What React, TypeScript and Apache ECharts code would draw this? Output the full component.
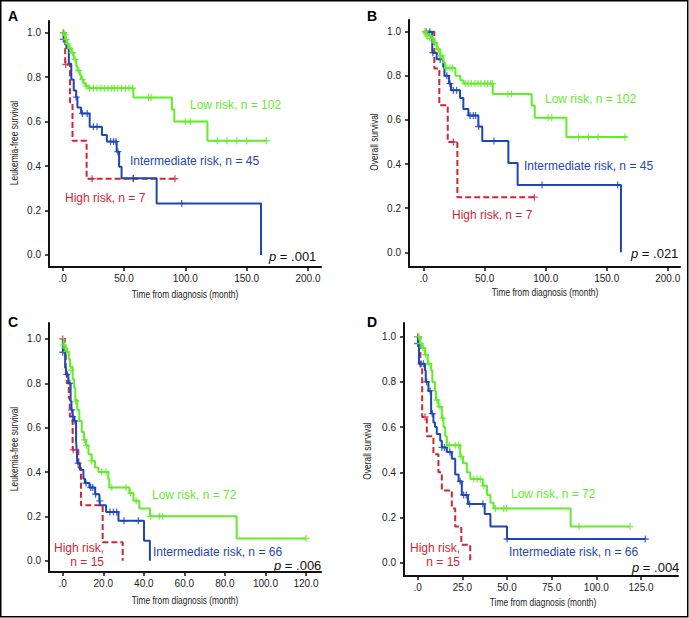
import React, { useEffect, useRef } from "react";
import * as echarts from "echarts";

// ---------- colours ----------
const GREEN = "#63ec2a";
const BLUE = "#1d47b4";
const RED = "#d02535";

// ---------- tick values ----------
const xTicksAB = [0, 50, 100, 150, 200];
const xTicksC = [0, 20, 40, 60, 80, 100, 120];
const xTicksD = [0, 25, 50, 75, 100, 125];
const yTicks = [0, 0.2, 0.4, 0.6, 0.8, 1.0];

// ---------- Panel A : leukemia-free survival ----------
const aLowSteps = [[0, 1], [1, 0.99], [2, 0.97], [3, 0.95], [5, 0.93], [7, 0.91], [9, 0.88], [11, 0.85], [12, 0.83], [14, 0.81], [15, 0.79], [17, 0.77], [19, 0.76], [21, 0.75], [57.6, 0.708], [89, 0.655], [91, 0.6], [118, 0.514], [166, 0.514]];
const aLowCens = [[1, 1], [2, 0.99], [3, 0.97], [4, 0.95], [6, 0.93], [8, 0.91], [10, 0.88], [13, 0.83], [16, 0.79], [19, 0.76], [22, 0.75], [25, 0.75], [28, 0.75], [31, 0.75], [34, 0.75], [37, 0.75], [40, 0.75], [42, 0.75], [45, 0.75], [48, 0.75], [51, 0.75], [54, 0.75], [57, 0.75], [70, 0.708], [72, 0.708], [100, 0.6], [104, 0.6], [126, 0.514], [134, 0.514], [142, 0.514], [150, 0.514], [166, 0.514]];
const aIntSteps = [[0, 1], [1, 0.97], [3, 0.93], [5, 0.86], [7, 0.79], [9, 0.74], [11, 0.71], [12, 0.664], [15, 0.637], [22, 0.577], [32, 0.54], [36, 0.51], [44, 0.465], [46, 0.397], [48, 0.345], [76.6, 0.232], [161.7, 0]];
const aIntCens = [[0.5, 0.97], [11, 0.71], [16, 0.637], [20, 0.637], [25, 0.577], [28, 0.577], [39, 0.51], [41.5, 0.51], [43.5, 0.51], [45, 0.465], [57.6, 0.345], [97, 0.232]];
const aHighSteps = [[0, 1], [2, 0.857], [6, 0.686], [8, 0.514], [19.5, 0.343], [91.5, 0.343]];
const aHighCens = [[0.5, 1], [2.5, 0.857], [24, 0.343], [57.6, 0.343], [91.5, 0.343]];

// ---------- Panel B : overall survival ----------
const bLowSteps = [[0, 1], [2, 0.99], [4, 0.98], [6, 0.97], [8, 0.95], [10.7, 0.92], [13.4, 0.89], [16, 0.86], [17.5, 0.835], [26, 0.8], [30, 0.78], [32.5, 0.765], [56.6, 0.718], [88.5, 0.665], [91, 0.61], [117, 0.523], [166.4, 0.523]];
const bLowCens = [[1, 1], [2, 0.99], [3, 0.98], [5, 0.97], [7, 0.97], [9, 0.95], [12, 0.92], [14, 0.89], [15, 0.89], [19, 0.835], [21.5, 0.835], [23.5, 0.835], [34, 0.765], [36.5, 0.765], [39, 0.765], [42, 0.765], [44.5, 0.765], [47, 0.765], [50, 0.765], [52.5, 0.765], [55, 0.765], [56.5, 0.765], [69, 0.718], [72, 0.718], [102, 0.61], [105, 0.61], [127, 0.523], [135, 0.523], [143, 0.523], [165, 0.523]];
const bIntSteps = [[0, 1], [7, 0.905], [10.7, 0.875], [16, 0.84], [17, 0.8], [20.8, 0.765], [22.4, 0.735], [29.8, 0.7], [32.5, 0.65], [36.6, 0.62], [44.8, 0.57], [48, 0.505], [69.4, 0.405], [77, 0.305], [161.7, 0]];
const bIntCens = [[5, 1], [7.5, 0.905], [13.5, 0.875], [19, 0.8], [21.5, 0.765], [24.3, 0.735], [27, 0.735], [38, 0.62], [40.7, 0.62], [42.5, 0.62], [45, 0.57], [57.6, 0.505], [97, 0.305], [159, 0.305]];
const bHighSteps = [[0, 1], [8.7, 0.833], [12.8, 0.667], [19.7, 0.5], [27.6, 0.25], [90.7, 0.25]];
const bHighCens = [[2, 1], [24.3, 0.5], [90.7, 0.25]];

// ---------- Panel C : leukemia-free survival ----------
const cLowSteps = [[0, 1], [0.5, 0.97], [1.5, 0.955], [2.2, 0.94], [3, 0.91], [3.6, 0.875], [4.9, 0.82], [5.6, 0.78], [6.2, 0.725], [7.2, 0.68], [8.2, 0.63], [9.4, 0.58], [10.5, 0.545], [11.5, 0.52], [12.7, 0.48], [14.3, 0.45], [16, 0.42], [17.6, 0.4], [22.5, 0.37], [23, 0.33], [32.9, 0.305], [34.9, 0.27], [37.8, 0.235], [43, 0.2], [85.8, 0.1], [120, 0.1]];
const cLowCens = [[0.3, 0.973], [1, 0.96], [2, 0.943], [4.1, 0.86], [6.4, 0.72], [10.7, 0.545], [11.8, 0.52], [14, 0.45], [19.2, 0.4], [21.4, 0.4], [24.2, 0.33], [31.2, 0.33], [33.5, 0.305], [36.2, 0.27], [43.4, 0.2], [47.7, 0.2], [49.3, 0.2], [120, 0.1]];
const cIntSteps = [[0, 1], [0.3, 0.94], [1.2, 0.87], [1.6, 0.84], [2.8, 0.8], [3.9, 0.72], [4.3, 0.68], [4.9, 0.65], [5.6, 0.63], [6.6, 0.54], [6.9, 0.5], [7.2, 0.44], [8.5, 0.41], [10.2, 0.37], [11, 0.35], [13.2, 0.33], [16, 0.3], [18.1, 0.27], [18.4, 0.25], [21.4, 0.22], [27.5, 0.18], [40.1, 0.09], [43, 0]];
const cIntCens = [[0, 0.94], [2, 0.84], [3.6, 0.8], [4.4, 0.68], [4.9, 0.65], [6, 0.63], [7.6, 0.44], [11.5, 0.35], [13.8, 0.33], [14.8, 0.33], [16.2, 0.3], [18.3, 0.27], [23.3, 0.22], [25, 0.22], [26.6, 0.22], [30.2, 0.18], [37.3, 0.18]];
const cHighSteps = [[0, 1], [1, 0.933], [1.5, 0.867], [2, 0.8], [3, 0.733], [3.5, 0.65], [4.9, 0.5], [7.7, 0.42], [9, 0.25], [19.7, 0.083], [29.6, 0]];
const cHighCens = [[0, 1], [5.2, 0.5]];

// ---------- Panel D : overall survival ----------
const dLowSteps = [[0, 1], [1.3, 0.97], [2.6, 0.95], [4.1, 0.92], [5.6, 0.88], [7.5, 0.85], [8.2, 0.8], [9.7, 0.76], [10.2, 0.72], [11.6, 0.69], [13.5, 0.64], [14.4, 0.6], [15.4, 0.56], [16.3, 0.52], [23.8, 0.47], [25.3, 0.44], [27.5, 0.4], [29.4, 0.37], [36.4, 0.34], [38.8, 0.3], [40.7, 0.265], [42.5, 0.24], [85.6, 0.16], [118.8, 0.16]];
const dLowCens = [[0.5, 1], [1.5, 0.97], [3, 0.95], [4.5, 0.92], [6.3, 0.88], [10.8, 0.72], [12.5, 0.69], [14, 0.64], [17.6, 0.52], [21, 0.52], [22.9, 0.52], [24.3, 0.47], [31.3, 0.37], [33.2, 0.37], [35, 0.37], [37, 0.34], [43.5, 0.24], [48.2, 0.24], [49.7, 0.24], [90.3, 0.16], [118.8, 0.16]];
const dIntSteps = [[0, 1], [0.3, 0.97], [0.7, 0.88], [4.1, 0.85], [4.5, 0.8], [6, 0.76], [7.5, 0.66], [8.8, 0.62], [9.7, 0.6], [10.7, 0.57], [12.6, 0.54], [13.5, 0.51], [16.3, 0.49], [19.1, 0.46], [21, 0.39], [22.9, 0.36], [24.7, 0.3], [28.1, 0.26], [37.5, 0.215], [40.7, 0.16], [50, 0.105], [127.4, 0.105]];
const dIntCens = [[0, 0.97], [1.9, 0.88], [3.2, 0.88], [5, 0.8], [7, 0.76], [8.2, 0.66], [13.5, 0.51], [15, 0.51], [18, 0.49], [23.8, 0.36], [25.7, 0.3], [27.2, 0.3], [29, 0.26], [36.5, 0.26], [50, 0.105], [127.4, 0.105]];
const dHighSteps = [[0, 1], [1.5, 0.867], [2.5, 0.645], [5.1, 0.56], [8.8, 0.48], [11.6, 0.4], [13.5, 0.32], [19.1, 0.24], [21, 0.16], [24.4, 0.08], [29.4, 0]];
const dHighCens = [[0, 1], [4.1, 0.645]];

const PLUS = "path://M-0.75,-4H0.75V-0.75H4V0.75H0.75V4H-0.75V0.75H-4V-0.75H-0.75Z";
const FONT = '"Liberation Sans", Arial, Helvetica, sans-serif';

type Panel = {
  grid: { left: number; top: number; width: number; height: number };
  xMin: number; xMax: number; yMin: number; yMax: number; xTicks: number[];
  low: number[][]; lowC: number[][]; int: number[][]; intC: number[][]; high: number[][]; highC: number[][];
};

const panels: Panel[] = [
  { grid: { left: 49, top: 21, width: 272, height: 246 }, xMin: -11.17, xMax: 210.6, yMin: -0.054, yMax: 1.0526, xTicks: xTicksAB,
    low: aLowSteps, lowC: aLowCens, int: aIntSteps, intC: aIntCens, high: aHighSteps, highC: aHighCens },
  { grid: { left: 409, top: 20, width: 271, height: 247 }, xMin: -12.05, xMax: 210.1, yMin: -0.0666, yMax: 1.053, xTicks: xTicksAB,
    low: bLowSteps, lowC: bLowCens, int: bIntSteps, intC: bIntCens, high: bHighSteps, highC: bHighCens },
  { grid: { left: 49, top: 323, width: 272, height: 249 }, xMin: -6.76, xMax: 127.4, yMin: -0.051, yMax: 1.072, xTicks: xTicksC,
    low: cLowSteps, lowC: cLowCens, int: cIntSteps, intC: cIntCens, high: cHighSteps, highC: cHighCens },
  { grid: { left: 404, top: 323, width: 274, height: 253 }, xMin: -7.67, xMax: 145.7, yMin: -0.0588, yMax: 1.0606, xTicks: xTicksD,
    low: dLowSteps, lowC: dLowCens, int: dIntSteps, intC: dIntCens, high: dHighSteps, highC: dHighCens },
];

function txt(x: number, y: number, text: string, color: string, size: number, align = "left", extra: any = {}) {
  return {
    type: "text", x, y, z: 50, ...extra,
    style: { text, fill: color, fontSize: size, fontFamily: FONT, lineHeight: size, align, textAlign: align, verticalAlign: "middle", textVerticalAlign: "middle", ...(extra.style || {}) },
  };
}

function pText(x: number, y: number, val: string) {
  return {
    type: "text", x, y, z: 50,
    style: {
      text: "{i|p}{t| = " + val + "}",
      verticalAlign: "middle", textVerticalAlign: "middle",
      rich: {
        i: { fontStyle: "italic", fontSize: 13, lineHeight: 12, fontFamily: FONT, fill: "#111" },
        t: { fontSize: 13, lineHeight: 12, fontFamily: FONT, fill: "#111" },
      },
    },
  };
}

function condensed(x: number, y: number, text: string, vertical: boolean) {
  return {
    type: "text", x, y, z: 50, rotation: vertical ? Math.PI / 2 : 0, scaleX: 0.84,
    style: { text, fill: "#222", fontSize: 10, fontFamily: FONT, align: "center", textAlign: "center", verticalAlign: "middle", textVerticalAlign: "middle" },
  };
}

export default function App() {
  const ref = useRef<HTMLDivElement>(null);
  useEffect(() => {
    if (!ref.current) return;
    const chart = echarts.init(ref.current, null, { renderer: "svg" });
    const grids: any[] = [];
    const xAxes: any[] = [];
    const yAxes: any[] = [];
    const series: any[] = [];
    panels.forEach((p, i) => {
      grids.push({ ...p.grid });
      xAxes.push({
        gridIndex: i, type: "value", min: p.xMin, max: p.xMax,
        axisLine: { show: true, onZero: false, lineStyle: { color: "#111", width: 2 } },
        axisTick: { show: true, inside: false, length: 4, customValues: p.xTicks, lineStyle: { color: "#111", width: 1.5 } },
        axisLabel: { customValues: p.xTicks, margin: 6, fontSize: 10, color: "#222", fontFamily: FONT,
          formatter: (v: number) => (v === 0 ? ".0" : v.toFixed(1)) },
        splitLine: { show: false },
      });
      yAxes.push({
        gridIndex: i, type: "value", min: p.yMin, max: p.yMax,
        axisLine: { show: true, onZero: false, lineStyle: { color: "#111", width: 2 } },
        axisTick: { show: true, inside: false, length: 4, customValues: yTicks, lineStyle: { color: "#111", width: 1.5 } },
        axisLabel: { customValues: yTicks, margin: 8, fontSize: 10, color: "#222", fontFamily: FONT,
          formatter: (v: number) => v.toFixed(1) },
        splitLine: { show: false },
      });
      const line = (data: number[][], color: string, dashed: boolean, z: number) => ({
        type: "line", xAxisIndex: i, yAxisIndex: i, data, step: "end", symbol: "none", showSymbol: false, z,
        lineStyle: { color, width: 2, type: dashed ? [6, 3] : "solid" },
      });
      const cens = (data: number[][], color: string, z: number) => ({
        type: "scatter", xAxisIndex: i, yAxisIndex: i, data, symbol: PLUS, symbolSize: 7, z,
        itemStyle: { color },
      });
      series.push(line(p.high, RED, true, 2), cens(p.highC, RED, 3));
      series.push(line(p.int, BLUE, false, 4), cens(p.intC, BLUE, 5));
      series.push(line(p.low, GREEN, false, 6), cens(p.lowC, GREEN, 7));
    });

    const graphic: any[] = [
      { type: "rect", z: 100, shape: { x: 0.75, y: 0.75, width: 687, height: 616 }, style: { fill: "none", stroke: "#000", lineWidth: 1.5 } },
      // panel letters
      txt(8, 16, "A", "#000", 14, "left", { style: { fontWeight: "bold" } }),
      txt(367, 16, "B", "#000", 14, "left", { style: { fontWeight: "bold" } }),
      txt(8, 322, "C", "#000", 14, "left", { style: { fontWeight: "bold" } }),
      txt(367, 322, "D", "#000", 14, "left", { style: { fontWeight: "bold" } }),
      // axis titles
      condensed(185, 295, "Time from diagnosis (month)", false),
      condensed(545, 293, "Time from diagnosis (month)", false),
      condensed(185, 601, "Time from diagnosis (month)", false),
      condensed(543, 603, "Time from diagnosis (month)", false),
      condensed(15, 143, "Leukemia-free survival", true),
      condensed(375, 142, "Overall survival", true),
      condensed(15, 449, "Leukemia-free survival", true),
      condensed(368, 451, "Overall survival", true),
      // group labels A
      txt(190, 105, "Low risk, n = 102", GREEN, 12),
      txt(130, 161, "Intermediate risk, n = 45", BLUE, 12),
      txt(65, 198, "High risk, n = 7", RED, 12),
      pText(269, 256, ".001"),
      // B
      txt(545, 99, "Low risk, n = 102", GREEN, 12),
      txt(524, 166, "Intermediate risk, n = 45", BLUE, 12),
      txt(452, 215, "High risk, n = 7", RED, 12),
      pText(631, 253, ".021"),
      // C
      txt(152, 495, "Low risk, n = 72", GREEN, 12),
      txt(153, 552, "Intermediate risk, n = 66", BLUE, 12),
      txt(104, 548, "High risk,", RED, 12, "right"),
      txt(104, 562, "n = 15", RED, 12, "right"),
      pText(274, 565, ".006"),
      // D
      txt(511, 494, "Low risk, n = 72", GREEN, 12),
      txt(509, 552, "Intermediate risk, n = 66", BLUE, 12),
      txt(460, 548, "High risk,", RED, 12, "right"),
      txt(460, 562, "n = 15", RED, 12, "right"),
      pText(632, 567, ".004"),
    ];

    chart.setOption({
      animation: false,
      backgroundColor: "#ffffff",
      grid: grids,
      xAxis: xAxes,
      yAxis: yAxes,
      series,
      graphic,
    });
    return () => chart.dispose();
  }, []);
  return <div ref={ref} style={{ position: "absolute", left: 0, top: 0, width: 689, height: 618, background: "#fff" }} />;
}
